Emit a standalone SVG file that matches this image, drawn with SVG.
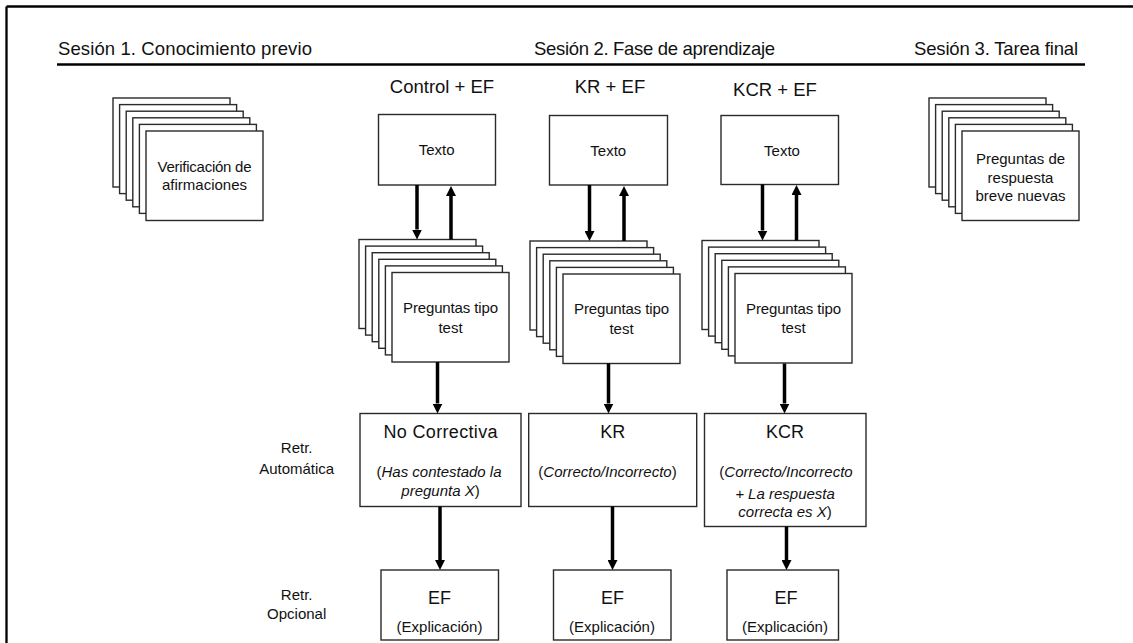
<svg xmlns="http://www.w3.org/2000/svg" width="1133" height="643" viewBox="0 0 1133 643">
<style>
text{font-family:"Liberation Sans",Arial,sans-serif;fill:#111}
.hd{font-size:18.5px}
.ct{font-size:18.5px;text-anchor:middle}
.sm{font-size:15px;text-anchor:middle}
.lb{font-size:15px;text-anchor:middle}
.bt{font-size:18px;text-anchor:middle}
.it{font-size:15px;text-anchor:middle}
.i{font-style:italic}
.box{fill:#fff;stroke:#2a2a2a;stroke-width:1.4}
.arr{stroke:#000;stroke-width:3.5;fill:none;marker-end:url(#ah)}
.rule{stroke:#000;stroke-width:2.3;fill:none}
</style>
<defs>
<marker id="ah" markerWidth="10" markerHeight="10" refX="0" refY="5" orient="auto" markerUnits="userSpaceOnUse">
<path d="M0,0 L10,5 L0,10 z" fill="#000"/>
</marker>
<g id="stack">
<rect class="box" x="0" y="0" width="117" height="89"/>
<rect class="box" x="6.6" y="6.6" width="117" height="89"/>
<rect class="box" x="13.2" y="13.2" width="117" height="89"/>
<rect class="box" x="19.8" y="19.8" width="117" height="89"/>
<rect class="box" x="26.4" y="26.4" width="117" height="89"/>
<rect class="box" x="33" y="33" width="117" height="89.5"/>
</g>
</defs>
<rect width="1133" height="643" fill="#fff"/>
<g id="frame">
<line class="rule" x1="6.5" y1="6.5" x2="6.5" y2="643"/>
<line class="rule" x1="6.5" y1="6.5" x2="1133" y2="6.5"/>
<line class="rule" x1="57" y1="64.5" x2="1085" y2="64.5"/>
</g>
<g id="headers">
<text class="hd" x="58" y="54.5" textLength="254">Sesión 1. Conocimiento previo</text>
<text class="hd" x="534" y="54.5" textLength="241">Sesión 2. Fase de aprendizaje</text>
<text class="hd" x="914" y="54.5" textLength="164">Sesión 3. Tarea final</text>
<text class="ct" x="442" y="93">Control + EF</text>
<text class="ct" x="610" y="93.3">KR + EF</text>
<text class="ct" x="775" y="96">KCR + EF</text>
</g>
<g id="side-labels">
<text class="lb" x="296.7" y="453.3">Retr.</text>
<text class="lb" x="296.7" y="474">Automática</text>
<text class="lb" x="296.7" y="600">Retr.</text>
<text class="lb" x="296.7" y="618.5">Opcional</text>
</g>
<g id="verificacion">
<use href="#stack" x="113" y="98"/>
<text class="sm" x="204.5" y="171.5" textLength="94">Verificación de</text>
<text class="sm" x="204.5" y="190">afirmaciones</text>
</g>
<g id="preguntas-nuevas">
<use href="#stack" x="929" y="98"/>
<text class="sm" x="1020.5" y="164">Preguntas de</text>
<text class="sm" x="1020.5" y="182.5">respuesta</text>
<text class="sm" x="1020.5" y="201">breve nuevas</text>
</g>
<g id="texto-1">
<rect class="box" x="378.5" y="114.5" width="117" height="70.5"/>
<text class="sm" x="436.7" y="155">Texto</text>
</g>
<g id="texto-2">
<rect class="box" x="549.5" y="115.5" width="118" height="69.5"/>
<text class="sm" x="608.3" y="155.5">Texto</text>
</g>
<g id="texto-3">
<rect class="box" x="721" y="115.5" width="117.5" height="69"/>
<text class="sm" x="782" y="155.5">Texto</text>
</g>
<g id="test-1">
<use href="#stack" x="359" y="239.5"/>
<text class="sm" x="450.5" y="313.3" textLength="95">Preguntas tipo</text>
<text class="sm" x="450.5" y="332.7">test</text>
</g>
<g id="test-2">
<use href="#stack" x="530" y="241"/>
<text class="sm" x="621.5" y="314.3" textLength="95">Preguntas tipo</text>
<text class="sm" x="621.5" y="333.7">test</text>
</g>
<g id="test-3">
<use href="#stack" x="702" y="240.5"/>
<text class="sm" x="793.5" y="313.5" textLength="95">Preguntas tipo</text>
<text class="sm" x="793.5" y="333">test</text>
</g>
<g id="nocorrectiva">
<rect class="box" x="360" y="413.5" width="161" height="93"/>
<text class="bt" x="440.5" y="437.5" textLength="114">No Correctiva</text>
<text class="it" x="439" y="477"><tspan>(</tspan><tspan class="i">Has contestado la</tspan></text>
<text class="it" x="440.5" y="496"><tspan class="i">pregunta X</tspan><tspan>)</tspan></text>
</g>
<g id="kr">
<rect class="box" x="528.7" y="413.5" width="168" height="93"/>
<text class="bt" x="612.7" y="438.3">KR</text>
<text class="it" x="607.5" y="477" font-size="16"><tspan>(</tspan><tspan class="i">Correcto/Incorrecto</tspan><tspan>)</tspan></text>
</g>
<g id="kcr">
<rect class="box" x="704.5" y="413.5" width="161.5" height="113"/>
<text class="bt" x="785" y="438">KCR</text>
<text class="it" x="786" y="477" font-size="16"><tspan>(</tspan><tspan class="i">Correcto/Incorrecto</tspan></text>
<text class="it i" x="785" y="499">+ La respuesta</text>
<text class="it" x="785" y="517.3"><tspan class="i">correcta es X</tspan><tspan>)</tspan></text>
</g>
<g id="ef-1">
<rect class="box" x="381" y="570" width="117.5" height="70"/>
<text class="bt" x="439.5" y="603.5">EF</text>
<text class="lb" x="439.5" y="631.5">(Explicación)</text>
</g>
<g id="ef-2">
<rect class="box" x="553.5" y="570" width="117.5" height="70"/>
<text class="bt" x="612.5" y="603.5">EF</text>
<text class="lb" x="612" y="631.5">(Explicación)</text>
</g>
<g id="ef-3">
<rect class="box" x="727" y="570" width="111.5" height="70"/>
<text class="bt" x="786" y="603.5">EF</text>
<text class="lb" x="785" y="631.5">(Explicación)</text>
</g>
<g id="connectors">
<line class="arr" x1="417" y1="185" x2="417" y2="229.5"/>
<line class="arr" x1="451" y1="239.5" x2="451" y2="196"/>
<line class="arr" x1="589.5" y1="185" x2="589.5" y2="231"/>
<line class="arr" x1="624" y1="241" x2="624" y2="196"/>
<line class="arr" x1="762.5" y1="184.5" x2="762.5" y2="230.5"/>
<line class="arr" x1="796.5" y1="240.5" x2="796.5" y2="195"/>
<line class="arr" x1="437.5" y1="362" x2="437.5" y2="403.5"/>
<line class="arr" x1="608.5" y1="363.5" x2="608.5" y2="403.5"/>
<line class="arr" x1="784.5" y1="363.5" x2="784.5" y2="403.5"/>
<line class="arr" x1="440" y1="506.5" x2="440" y2="560"/>
<line class="arr" x1="612.5" y1="506.5" x2="612.5" y2="560"/>
<line class="arr" x1="786.5" y1="526.5" x2="786.5" y2="560"/>
</g>
</svg>
